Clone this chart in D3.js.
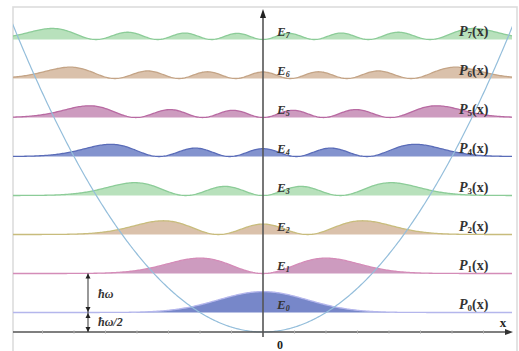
<!DOCTYPE html>
<html><head><meta charset="utf-8">
<script src="https://cdn.jsdelivr.net/npm/d3@7"></script>
<style>html,body{margin:0;padding:0;background:#fff;}svg{display:block;}</style>
</head><body>
<svg id="c" width="519" height="351"></svg>
<script>
// ---- data ----
const levels = [0, 1, 2, 3, 4, 5, 6, 7];
const energies = [0.5, 1.5, 2.5, 3.5, 4.5, 5.5, 6.5, 7.5];
const energyLabels = ["0", "1", "2", "3", "4", "5", "6", "7"];
const densityLabels = ["0", "1", "2", "3", "4", "5", "6", "7"];
const fillColors = ["#5f72c0", "#c48ab4", "#d4b69c", "#acdcb0", "#6d80c6", "#c48ab4", "#d4b69c", "#acdcb0"];
const strokeColors = ["#b4b6ec", "#d48cb8", "#c8bc7c", "#8ccc98", "#5a6cb8", "#b86aa2", "#c4a486", "#8ccc98"];
const xTicks = [-3.5, -3, -2.5, -2, -1.5, -1, -0.5, 0.5, 1, 1.5, 2, 2.5, 3, 3.5];
const xDomain = [-4, 4];

// ---- scales ----
const svg = d3.select("#c");
const x = d3.scaleLinear().domain(xDomain).range([11, 515]);
const y = d3.scaleLinear().domain([0, 8]).range([332, 20]);
const densityScale = 0.95; // density units -> energy units

const defs = svg.append("defs");
defs.append("clipPath").attr("id", "clip").append("rect")
  .attr("x", 13).attr("y", 7).attr("width", 499).attr("height", 340);

// frame
svg.append("rect").attr("x", 13).attr("y", 7).attr("width", 504).attr("height", 360)
  .attr("fill", "none").attr("stroke", "#dcdcdc").attr("stroke-width", 1.6);

// wavefunction densities
function psi(n, t) {
  let p0 = Math.pow(Math.PI, -0.25) * Math.exp(-t * t / 2);
  if (n === 0) return p0;
  let p1 = Math.sqrt(2) * t * p0;
  for (let k = 1; k < n; k++) {
    const p2 = Math.sqrt(2 / (k + 1)) * t * p1 - Math.sqrt(k / (k + 1)) * p0;
    p0 = p1; p1 = p2;
  }
  return p1;
}
const xs = d3.range(xDomain[0], xDomain[1] + 0.0001, 0.02);

const g = svg.append("g").attr("clip-path", "url(#clip)");
levels.forEach((n, i) => {
  const E = energies[i];
  const pts = xs.map(t => [t, E + densityScale * psi(n, t) ** 2]);
  const area = d3.area().x(d => x(d[0])).y0(y(E)).y1(d => y(d[1])).curve(d3.curveLinear);
  const line = d3.line().x(d => x(d[0])).y(d => y(d[1]));
  g.append("path").attr("d", area(pts)).attr("fill", fillColors[i]).attr("fill-opacity", 0.85);
  g.append("path").attr("d", line(pts)).attr("fill", "none").attr("stroke", strokeColors[i]).attr("stroke-width", 1.3);
});

// potential parabola
const pot = xs.map(t => [t, t * t / 2]);
g.append("path").attr("d", d3.line().x(d => x(d[0])).y(d => y(d[1]))(pot))
  .attr("fill", "none").attr("stroke", "#94bedb").attr("stroke-width", 1.2);

// x axis
const axCol = "#555";
svg.append("line").attr("x1", 13).attr("x2", 508).attr("y1", y(0)).attr("y2", y(0))
  .attr("stroke", axCol).attr("stroke-width", 1.6);
svg.append("path").attr("d", `M${513},${y(0)} L${505},${y(0) - 3} L${505},${y(0) + 3} Z`).attr("fill", "#333");
svg.selectAll(".xt").data(xTicks).enter().append("line")
  .attr("x1", d => x(d)).attr("x2", d => x(d)).attr("y1", y(0) - 1.5).attr("y2", y(0) + 1.5)
  .attr("stroke", "#aaa").attr("stroke-width", 1);

// y axis
svg.append("line").attr("x1", x(0)).attr("x2", x(0)).attr("y1", 337).attr("y2", 16)
  .attr("stroke", axCol).attr("stroke-width", 1.6);
svg.append("path").attr("d", `M${x(0)},9 L${x(0) - 3},18 L${x(0) + 3},18 Z`).attr("fill", "#222");

// labels
const serif = "'Liberation Serif','DejaVu Serif',serif";
svg.append("text").attr("x", 503).attr("y", 327).attr("font-family", serif).attr("font-weight", "bold")
  .attr("font-size", 13).attr("fill", "#222").attr("text-anchor", "middle").text("x");
svg.append("text").attr("x", 280).attr("y", 349).attr("font-family", serif).attr("font-weight", "bold")
  .attr("font-size", 12).attr("fill", "#222").attr("text-anchor", "middle").text("0");

levels.forEach((n, i) => {
  const by = y(energies[i]) - 4;
  const te = svg.append("text").attr("x", 277).attr("y", by).attr("font-family", serif)
    .attr("font-style", "italic").attr("font-weight", "bold").attr("font-size", 13).attr("fill", "#333");
  te.append("tspan").text("E");
  te.append("tspan").attr("font-size", 8).attr("dy", 2).text(energyLabels[i]);
  const tp = svg.append("text").attr("x", 459).attr("y", by).attr("font-family", serif)
    .attr("font-weight", "bold").attr("font-size", 14).attr("fill", "#333");
  tp.append("tspan").attr("font-style", "italic").text("P");
  tp.append("tspan").attr("font-size", 9).attr("dy", 2).text(densityLabels[i]);
  tp.append("tspan").attr("dy", -2).text("(x)");
});

// ħω annotation
const ax = 88;
const yA = y(energies[1]), yB = y(energies[0]), yC = y(0);
svg.append("line").attr("x1", ax).attr("x2", ax).attr("y1", yA).attr("y2", yC)
  .attr("stroke", "#444").attr("stroke-width", 1.1);
function head(yy, dir) {
  svg.append("path").attr("d", `M${ax},${yy} L${ax - 2.5},${yy - dir * 5} L${ax + 2.5},${yy - dir * 5} Z`).attr("fill", "#222");
}
head(yA, -1); head(yB - 0.5, 1); head(yB + 0.5, -1); head(yC, 1);
svg.append("text").attr("x", 98).attr("y", 298).attr("font-family", serif).attr("font-style", "italic")
  .attr("font-weight", "bold").attr("font-size", 12).attr("fill", "#333").text("ħω");
svg.append("text").attr("x", 98).attr("y", 326).attr("font-family", serif).attr("font-style", "italic")
  .attr("font-weight", "bold").attr("font-size", 12).attr("fill", "#333").text("ħω/2");
</script>
</body></html>
